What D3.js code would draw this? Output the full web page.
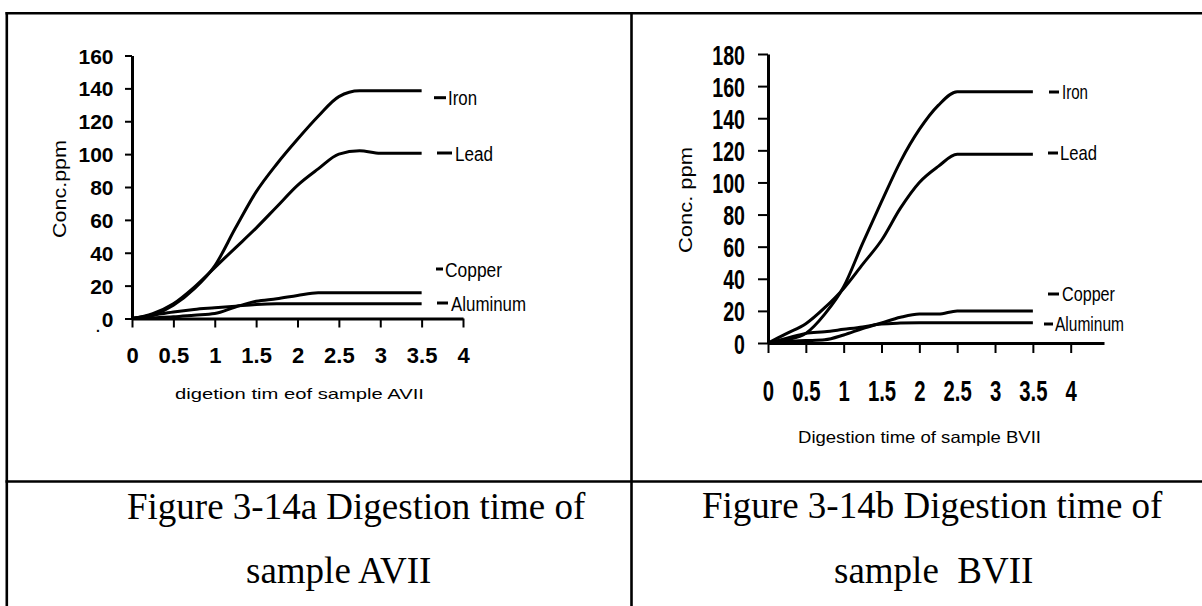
<!DOCTYPE html>
<html>
<head>
<meta charset="utf-8">
<script src="https://cdn.jsdelivr.net/npm/d3@7"></script>
<style>
  body { margin: 0; background: #fff; }
  svg { display: block; }
</style>
</head>
<body>
<svg id="fig" width="1202" height="606"></svg>
<script>
// ---- data -------------------------------------------------------------
const seriesNames = ["Iron", "Lead", "Copper", "Aluminum"];
const xTicks = [0, 0.5, 1, 1.5, 2, 2.5, 3, 3.5, 4];
const xTickLabels = ["0", "0.5", "1", "1.5", "2", "2.5", "3", "3.5", "4"];
const yTicksA = [0, 20, 40, 60, 80, 100, 120, 140, 160];
const yTicksB = [0, 20, 40, 60, 80, 100, 120, 140, 160, 180];

// sample AVII (digestion time, h -> conc. ppm)
const timesA    = [0, 0.25, 0.5, 0.75, 1, 1.25, 1.5, 1.75, 2, 2.25, 2.5, 2.75, 3, 3.5];
const ironA     = [0, 2, 8, 18, 32, 55, 77, 94, 109, 123, 135, 138.5, 138.5, 138.5];
const leadA     = [0, 3, 9, 19, 31, 43, 55, 68, 81, 91, 100, 102, 100.5, 100.5];
const copperA   = [0, 0.5, 1, 2, 3, 7, 10.5, 12, 14, 15.6, 15.6, 15.6, 15.6, 15.6];
const aluminumA = [0, 2, 4, 5.5, 6.5, 7.5, 8.5, 8.9, 8.9, 8.9, 8.9, 8.9, 8.9, 8.9];

// sample BVII
const timesB    = [0, 0.25, 0.5, 0.75, 1, 1.25, 1.5, 1.75, 2, 2.25, 2.5, 3, 3.5];
const ironB     = [0, 2, 6, 18, 35, 62, 88, 113, 133, 148, 156.5, 156.5, 156.5];
const leadB     = [0, 6, 12, 22, 34, 49, 64, 84, 100, 110, 117.5, 117.5, 117.5];
const copperB   = [0, 1, 1.5, 2, 5, 9, 12.5, 16, 18, 18, 20, 20, 20];
const aluminumB = [0, 3, 6, 7, 8.5, 10, 11.8, 12.4, 12.6, 12.6, 12.6, 12.6, 12.6];

const captionA = ["Figure 3-14a Digestion time of", "sample AVII"];
const captionB = ["Figure 3-14b Digestion time of", "sample  BVII"];

// ---- layout ------------------------------------------------------------
const SANS = "'Liberation Sans', Arial, Helvetica, sans-serif";
const SERIF = "'Liberation Serif', 'Times New Roman', serif";

const svg = d3.select("#fig");
svg.append("rect").attr("width", 1202).attr("height", 606).attr("fill", "#fff");

// table grid
const grid = svg.append("g").attr("stroke", "#000").attr("stroke-width", 2.6);
grid.append("line").attr("x1", 5.5).attr("x2", 1202).attr("y1", 13.3).attr("y2", 13.3);
grid.append("line").attr("x1", 5.5).attr("x2", 1202).attr("y1", 481.5).attr("y2", 481.5);
grid.append("line").attr("x1", 6.8).attr("x2", 6.8).attr("y1", 12).attr("y2", 606);
grid.append("line").attr("x1", 631.5).attr("x2", 631.5).attr("y1", 12).attr("y2", 606);

function drawChart(cfg) {
  const g = svg.append("g");
  const x = d3.scaleLinear().domain(cfg.xDomain).range(cfg.xRange);
  const y = d3.scaleLinear().domain(cfg.yDomain).range(cfg.yRange);

  // series lines
  const line = d3.line().x(d => x(d[0])).y(d => y(d[1])).curve(d3.curveMonotoneX);
  cfg.series.forEach(vals => {
    g.append("path")
      .attr("d", line(cfg.times.map((t, i) => [t, vals[i]])))
      .attr("fill", "none").attr("stroke", "#000")
      .attr("stroke-width", 3).attr("stroke-linejoin", "round");
  });

  // x axis
  const gx = g.append("g")
    .attr("transform", `translate(0,${y(0)})`)
    .call(d3.axisBottom(x).tickValues(xTicks)
      .tickFormat(d => xTickLabels[xTicks.indexOf(d)])
      .tickSize(cfg.xTickSize).tickSizeOuter(0))
    .attr("font-family", SANS).attr("font-size", cfg.tickFont);
  gx.select(".domain").attr("stroke", "#000").attr("stroke-width", 3);
  gx.selectAll(".tick line").attr("stroke", "#000").attr("stroke-width", 2);
  gx.selectAll(".tick text")
    .attr("dy", null).attr("y", cfg.xLabelBase)
    .attr("fill", "#000").attr("font-weight", "bold")
    .attr("transform", `scale(${cfg.tickScale},1)`);

  // y axis
  const gap = cfg.yTickSize + cfg.yPad;
  const gy = g.append("g")
    .attr("transform", `translate(${x(0)},0)`)
    .call(d3.axisLeft(y).tickValues(cfg.yTicks).tickFormat(d3.format("d"))
      .tickSize(cfg.yTickSize).tickSizeOuter(0))
    .attr("font-family", SANS).attr("font-size", cfg.yTickFont);
  gy.select(".domain").attr("stroke", "#000").attr("stroke-width", 3);
  gy.selectAll(".tick line").attr("stroke", "#000").attr("stroke-width", 2);
  gy.selectAll(".tick text")
    .attr("x", -gap / cfg.tickScale).attr("dy", "0.36em")
    .attr("fill", "#000").attr("font-weight", "bold")
    .attr("transform", `scale(${cfg.tickScale},1)`);

  // axis titles
  g.append("text")
    .attr("transform", `translate(${cfg.yTitle.x},${cfg.yTitle.y}) rotate(-90)`)
    .attr("text-anchor", "middle").attr("font-family", SANS)
    .attr("font-size", cfg.yTitle.size)
    .attr("textLength", cfg.yTitle.len).attr("lengthAdjust", "spacingAndGlyphs")
    .text(cfg.yTitle.text);
  g.append("text")
    .attr("x", cfg.xTitle.x).attr("y", cfg.xTitle.y)
    .attr("font-family", SANS).attr("font-size", cfg.xTitle.size)
    .attr("textLength", cfg.xTitle.len).attr("lengthAdjust", "spacingAndGlyphs")
    .text(cfg.xTitle.text);

  // series labels
  cfg.legend.forEach((L, i) => {
    g.append("line")
      .attr("x1", L.x0).attr("x2", L.x1).attr("y1", L.y).attr("y2", L.y)
      .attr("stroke", "#000").attr("stroke-width", 3);
    g.append("text")
      .attr("x", L.tx).attr("y", L.y + cfg.legendBase)
      .attr("font-family", SANS).attr("font-size", cfg.legendFont)
      .attr("textLength", L.w).attr("lengthAdjust", "spacingAndGlyphs")
      .text(seriesNames[i]);
  });

  // caption cell
  cfg.caption.forEach((c, i) => {
    g.append("text")
      .attr("x", cfg.captionX[i]).attr("y", cfg.captionY[i])
      .attr("font-family", SERIF).attr("font-size", 37)
      .style("white-space", "pre")
      .text(c);
  });
  return g;
}

const gA = drawChart({
  xDomain: [0, 4], xRange: [132, 463],
  yDomain: [0, 160], yRange: [318.5, 55.5],
  times: timesA, series: [ironA, leadA, copperA, aluminumA],
  yTicks: yTicksA,
  xTickSize: 9, xLabelBase: 44, tickFont: 22, yTickFont: 21, tickScale: 1,
  yTickSize: 7, yPad: 11.5,
  yTitle: { text: "Conc.ppm", x: 66, y: 189, size: 18, len: 98 },
  xTitle: { text: "digetion tim eof sample AVII", x: 175, y: 399, size: 15, len: 249 },
  legendFont: 20, legendBase: 7.5,
  legend: [
    { x0: 434, x1: 446, y: 97.7, tx: 448, w: 29 },
    { x0: 437, x1: 452, y: 153, tx: 455, w: 38 },
    { x0: 436, x1: 443, y: 269, tx: 445, w: 57 },
    { x0: 437, x1: 448, y: 303, tx: 451, w: 75 }
  ],
  caption: captionA, captionX: [127, 246], captionY: [519, 583]
});
// stray point mark under the zero label
gA.append("text").attr("x", 96).attr("y", 332)
  .attr("font-family", SANS).attr("font-size", 14).attr("font-weight", "bold").text(".");

drawChart({
  xDomain: [0, 4.44], xRange: [768, 1104],
  yDomain: [0, 180], yRange: [343, 54],
  times: timesB, series: [ironB, leadB, copperB, aluminumB],
  yTicks: yTicksB,
  xTickSize: 10, xLabelBase: 58, tickFont: 29, yTickFont: 28, tickScale: 0.7,
  yTickSize: 10, yPad: 13,
  yTitle: { text: "Conc. ppm", x: 692, y: 200, size: 18, len: 106 },
  xTitle: { text: "Digestion time of sample BVII", x: 798, y: 443, size: 16.5, len: 243 },
  legendFont: 21, legendBase: 7,
  legend: [
    { x0: 1049, x1: 1059, y: 92, tx: 1062, w: 26 },
    { x0: 1048, x1: 1058, y: 153, tx: 1060, w: 37 },
    { x0: 1048, x1: 1059, y: 294, tx: 1062, w: 53 },
    { x0: 1044, x1: 1053, y: 324, tx: 1055, w: 69 }
  ],
  caption: captionB, captionX: [702, 834], captionY: [518, 583]
});
</script>
</body>
</html>
